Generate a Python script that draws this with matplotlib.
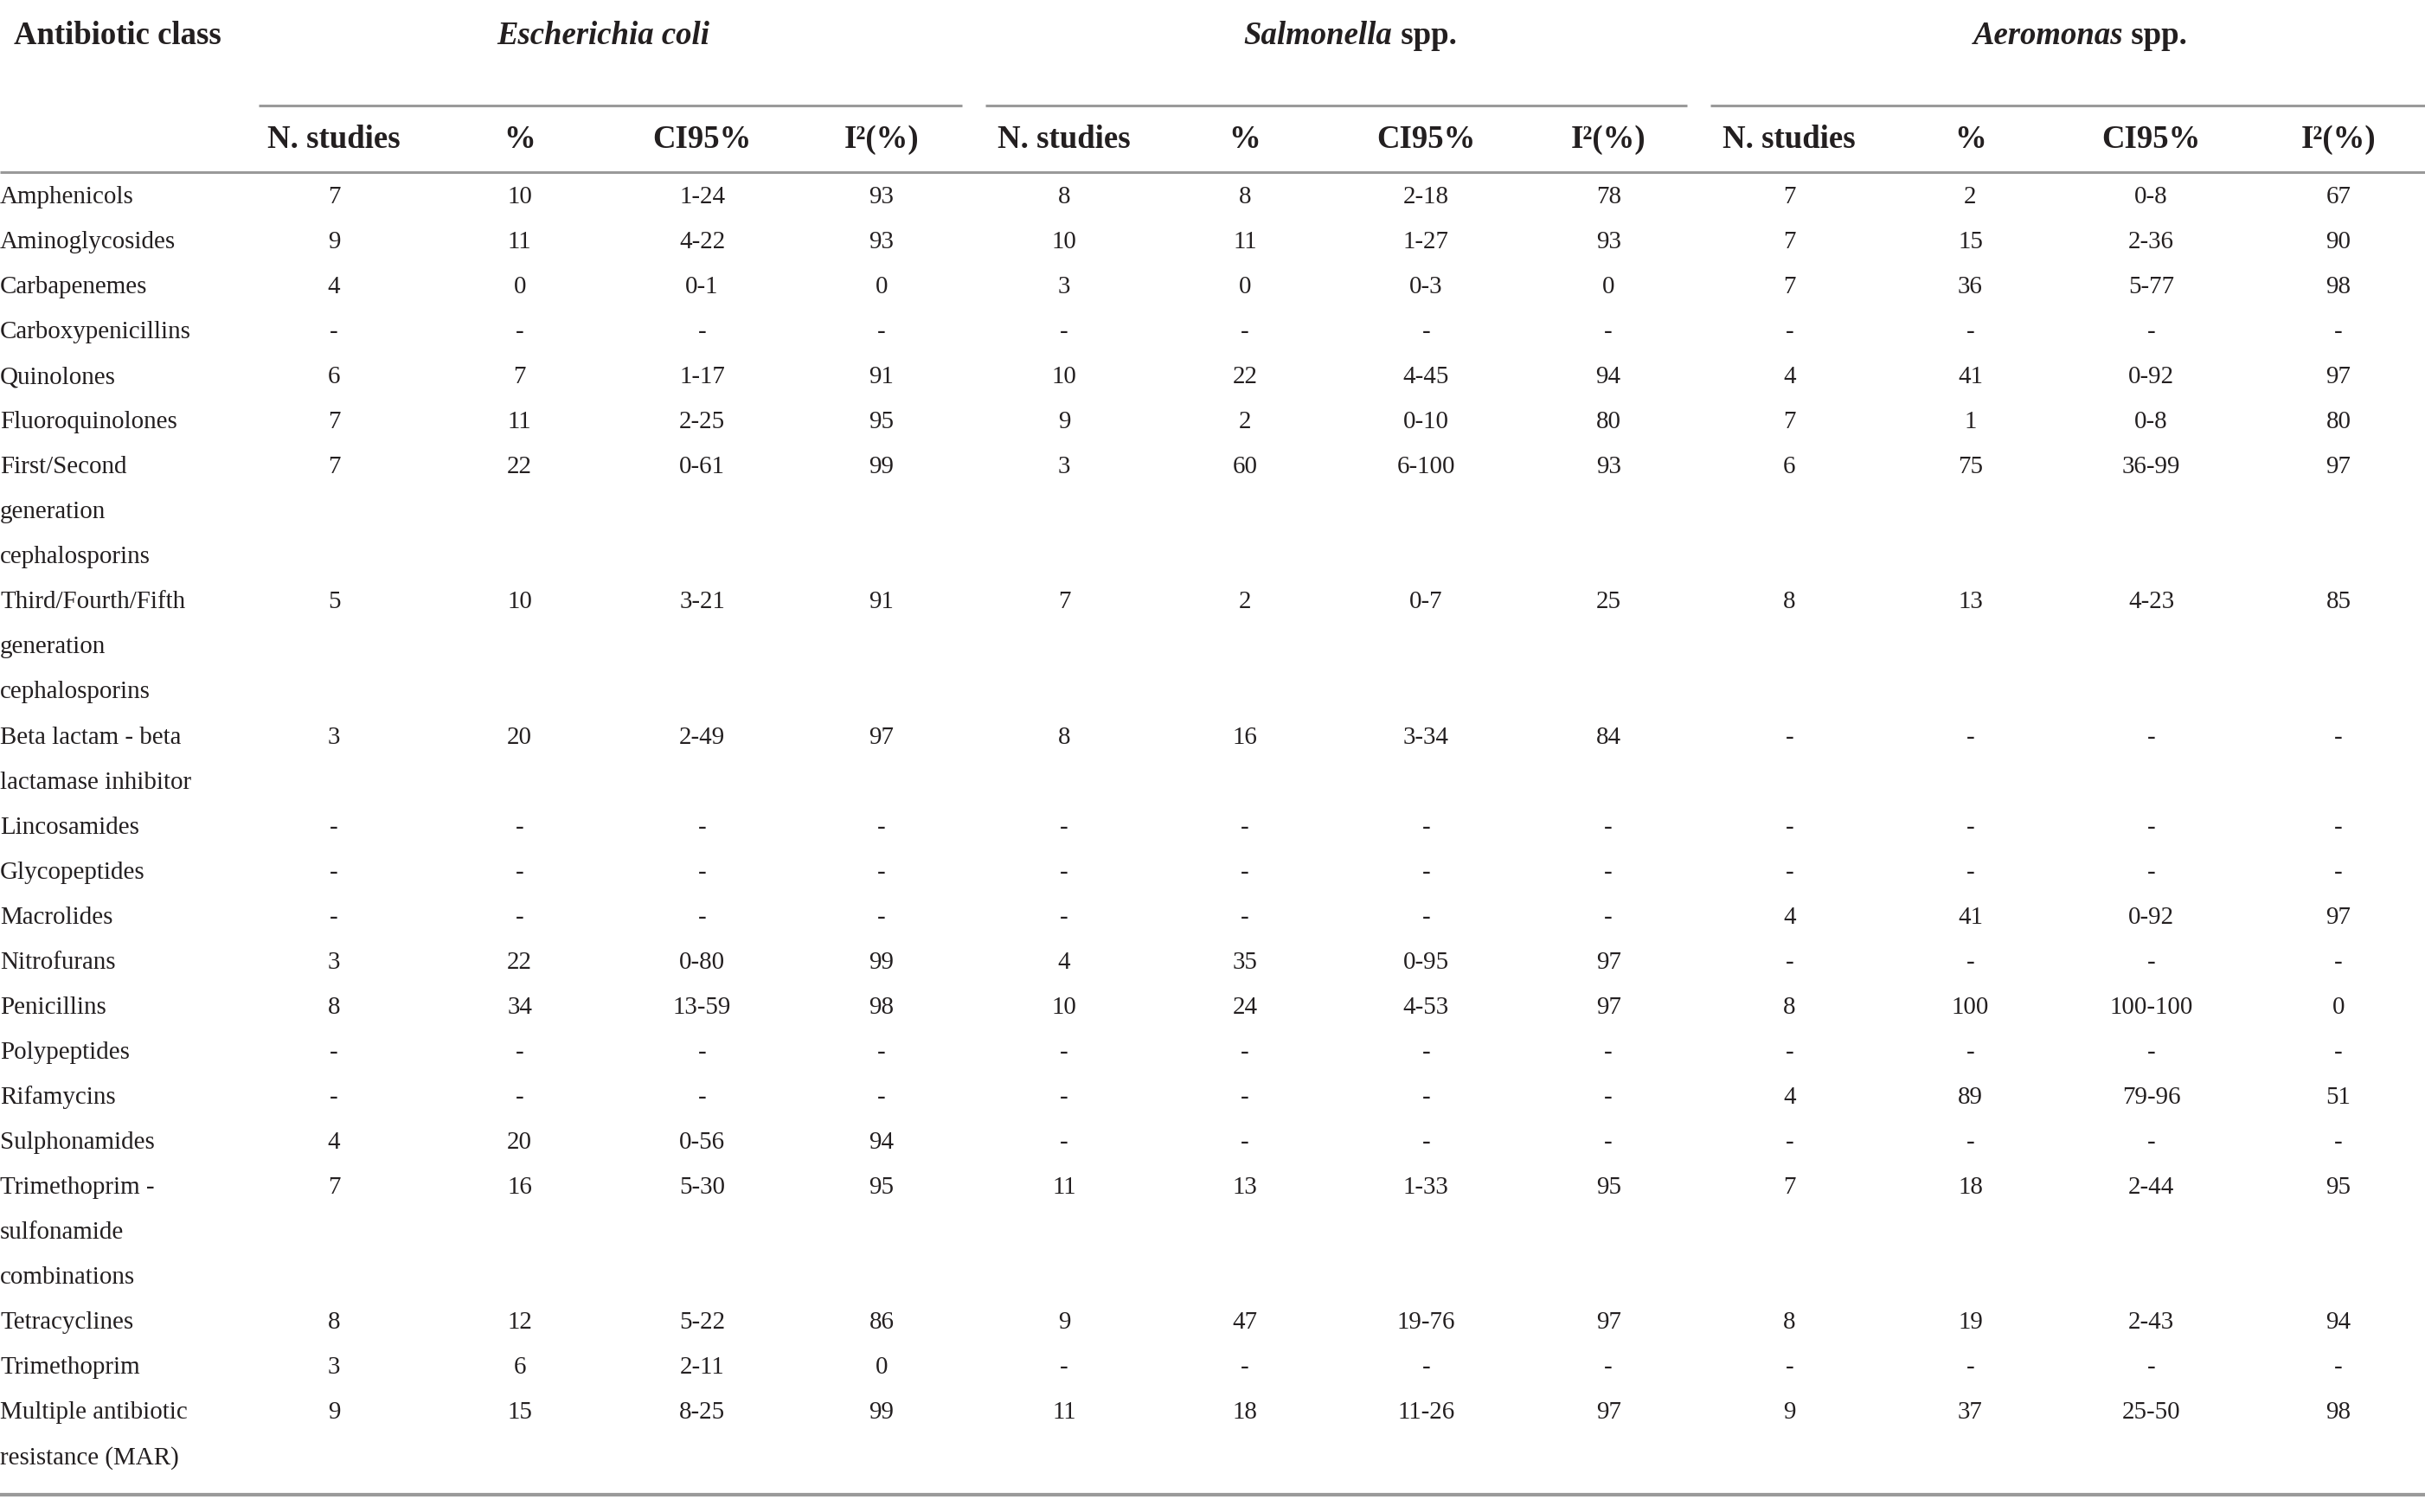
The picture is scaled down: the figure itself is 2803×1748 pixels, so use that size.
"""
Prevalence of antibiotic resistance by class and organism, as a table.
"""

import matplotlib.pyplot as plt

plt.rcParams.update({
    "font.family": "Liberation Serif",
    "text.color": "#231f20",
})

# ── Data ──────────────────────────────────
categories = [
    "Amphenicols", "Aminoglycosides", "Carbapenemes", "Carboxypenicillins",
    "Quinolones", "Fluoroquinolones",
    "First/Second\ngeneration\ncephalosporins",
    "Third/Fourth/Fifth\ngeneration\ncephalosporins",
    "Beta lactam - beta\nlactamase inhibitor",
    "Lincosamides", "Glycopeptides", "Macrolides", "Nitrofurans",
    "Penicillins", "Polypeptides", "Rifamycins", "Sulphonamides",
    "Trimethoprim -\nsulfonamide\ncombinations",
    "Tetracyclines", "Trimethoprim",
    "Multiple antibiotic\nresistance (MAR)",
]

organisms = ["Escherichia coli", "Salmonella", "Aeromonas"]
organism_suffix = ["", " spp.", " spp."]
sub_headers = ["N. studies", "%", "CI95%", "I²(%)"]

ecoli_n   = ["7", "9", "4", "-", "6", "7", "7", "5", "3", "-", "-", "-", "3", "8", "-", "-", "4", "7", "8", "3", "9"]
ecoli_pct = ["10", "11", "0", "-", "7", "11", "22", "10", "20", "-", "-", "-", "22", "34", "-", "-", "20", "16", "12", "6", "15"]
ecoli_ci  = ["1-24", "4-22", "0-1", "-", "1-17", "2-25", "0-61", "3-21", "2-49", "-", "-", "-", "0-80", "13-59", "-", "-", "0-56", "5-30", "5-22", "2-11", "8-25"]
ecoli_i2  = ["93", "93", "0", "-", "91", "95", "99", "91", "97", "-", "-", "-", "99", "98", "-", "-", "94", "95", "86", "0", "99"]

salm_n   = ["8", "10", "3", "-", "10", "9", "3", "7", "8", "-", "-", "-", "4", "10", "-", "-", "-", "11", "9", "-", "11"]
salm_pct = ["8", "11", "0", "-", "22", "2", "60", "2", "16", "-", "-", "-", "35", "24", "-", "-", "-", "13", "47", "-", "18"]
salm_ci  = ["2-18", "1-27", "0-3", "-", "4-45", "0-10", "6-100", "0-7", "3-34", "-", "-", "-", "0-95", "4-53", "-", "-", "-", "1-33", "19-76", "-", "11-26"]
salm_i2  = ["78", "93", "0", "-", "94", "80", "93", "25", "84", "-", "-", "-", "97", "97", "-", "-", "-", "95", "97", "-", "97"]

aero_n   = ["7", "7", "7", "-", "4", "7", "6", "8", "-", "-", "-", "4", "-", "8", "-", "4", "-", "7", "8", "-", "9"]
aero_pct = ["2", "15", "36", "-", "41", "1", "75", "13", "-", "-", "-", "41", "-", "100", "-", "89", "-", "18", "19", "-", "37"]
aero_ci  = ["0-8", "2-36", "5-77", "-", "0-92", "0-8", "36-99", "4-23", "-", "-", "-", "0-92", "-", "100-100", "-", "79-96", "-", "2-44", "2-43", "-", "25-50"]
aero_i2  = ["67", "90", "98", "-", "97", "80", "97", "85", "-", "-", "-", "97", "-", "0", "-", "51", "-", "95", "94", "-", "98"]

columns = [
    [ecoli_n, ecoli_pct, ecoli_ci, ecoli_i2],
    [salm_n, salm_pct, salm_ci, salm_i2],
    [aero_n, aero_pct, aero_ci, aero_i2],
]

# ── Layout (reference pixel grid 1568 x 978) ──
W, H = 1568, 978
group_centers = [390, 873, 1345]
group_spans = [(167, 622), (637, 1091), (1106, 1568)]
col_centers = [
    [216, 336, 454, 570],
    [688, 805, 922, 1040],
    [1157, 1274, 1391, 1512],
]
first_line_y = 127.5
line_pitch = 29.1
line_color = "#9a9a9a"
data_size = 20.9
head_size = 26.5

fig = plt.figure(figsize=(28.03, 17.49), dpi=100)
ax = fig.add_axes([0, 0, 1, 1])
ax.set_xlim(0, W)
ax.set_ylim(H, 0)
ax.axis("off")

# ── Header ────────────────────────────────
ax.text(9, 23, "Antibiotic class", fontsize=head_size, fontweight="bold",
        ha="left", va="center")

renderer = fig.canvas.get_renderer()
px_per_unit = fig.bbox.width / W
for name, suffix, cx in zip(organisms, organism_suffix, group_centers):
    t1 = ax.text(0, 23, name, fontsize=head_size, fontweight="bold",
                 style="italic", ha="left", va="center")
    w1 = t1.get_window_extent(renderer).width
    w2 = 0
    if suffix:
        t2 = ax.text(0, 23, suffix, fontsize=head_size, fontweight="bold",
                     ha="left", va="center")
        w2 = t2.get_window_extent(renderer).width
    start = cx - (w1 + w2) / 2 / px_per_unit
    t1.set_x(start)
    if suffix:
        t2.set_x(start + w1 / px_per_unit)

for (x0, x1) in group_spans:
    ax.plot([x0, x1], [69, 69], color=line_color, lw=2.2, solid_capstyle="butt")

for centers in col_centers:
    for label, cx in zip(sub_headers, centers):
        ax.text(cx, 90.5, label, fontsize=head_size, fontweight="bold",
                ha="center", va="center")

ax.plot([0, W], [112, 112], color=line_color, lw=2.2, solid_capstyle="butt")

# ── Body ──────────────────────────────────
line = 0
for i, cat in enumerate(categories):
    y_row = first_line_y + line * line_pitch
    parts = cat.split("\n")
    for k, part in enumerate(parts):
        ax.text(0, y_row + k * line_pitch, part, fontsize=data_size,
                ha="left", va="center")
    for g, group in enumerate(columns):
        for c, values in enumerate(group):
            ax.text(col_centers[g][c], y_row, values[i], fontsize=data_size,
                    ha="center", va="center")
    line += len(parts)

ax.plot([0, W], [967, 967], color=line_color, lw=3, solid_capstyle="butt")

fig.savefig("out.png", dpi=100)
plt.close(fig)
